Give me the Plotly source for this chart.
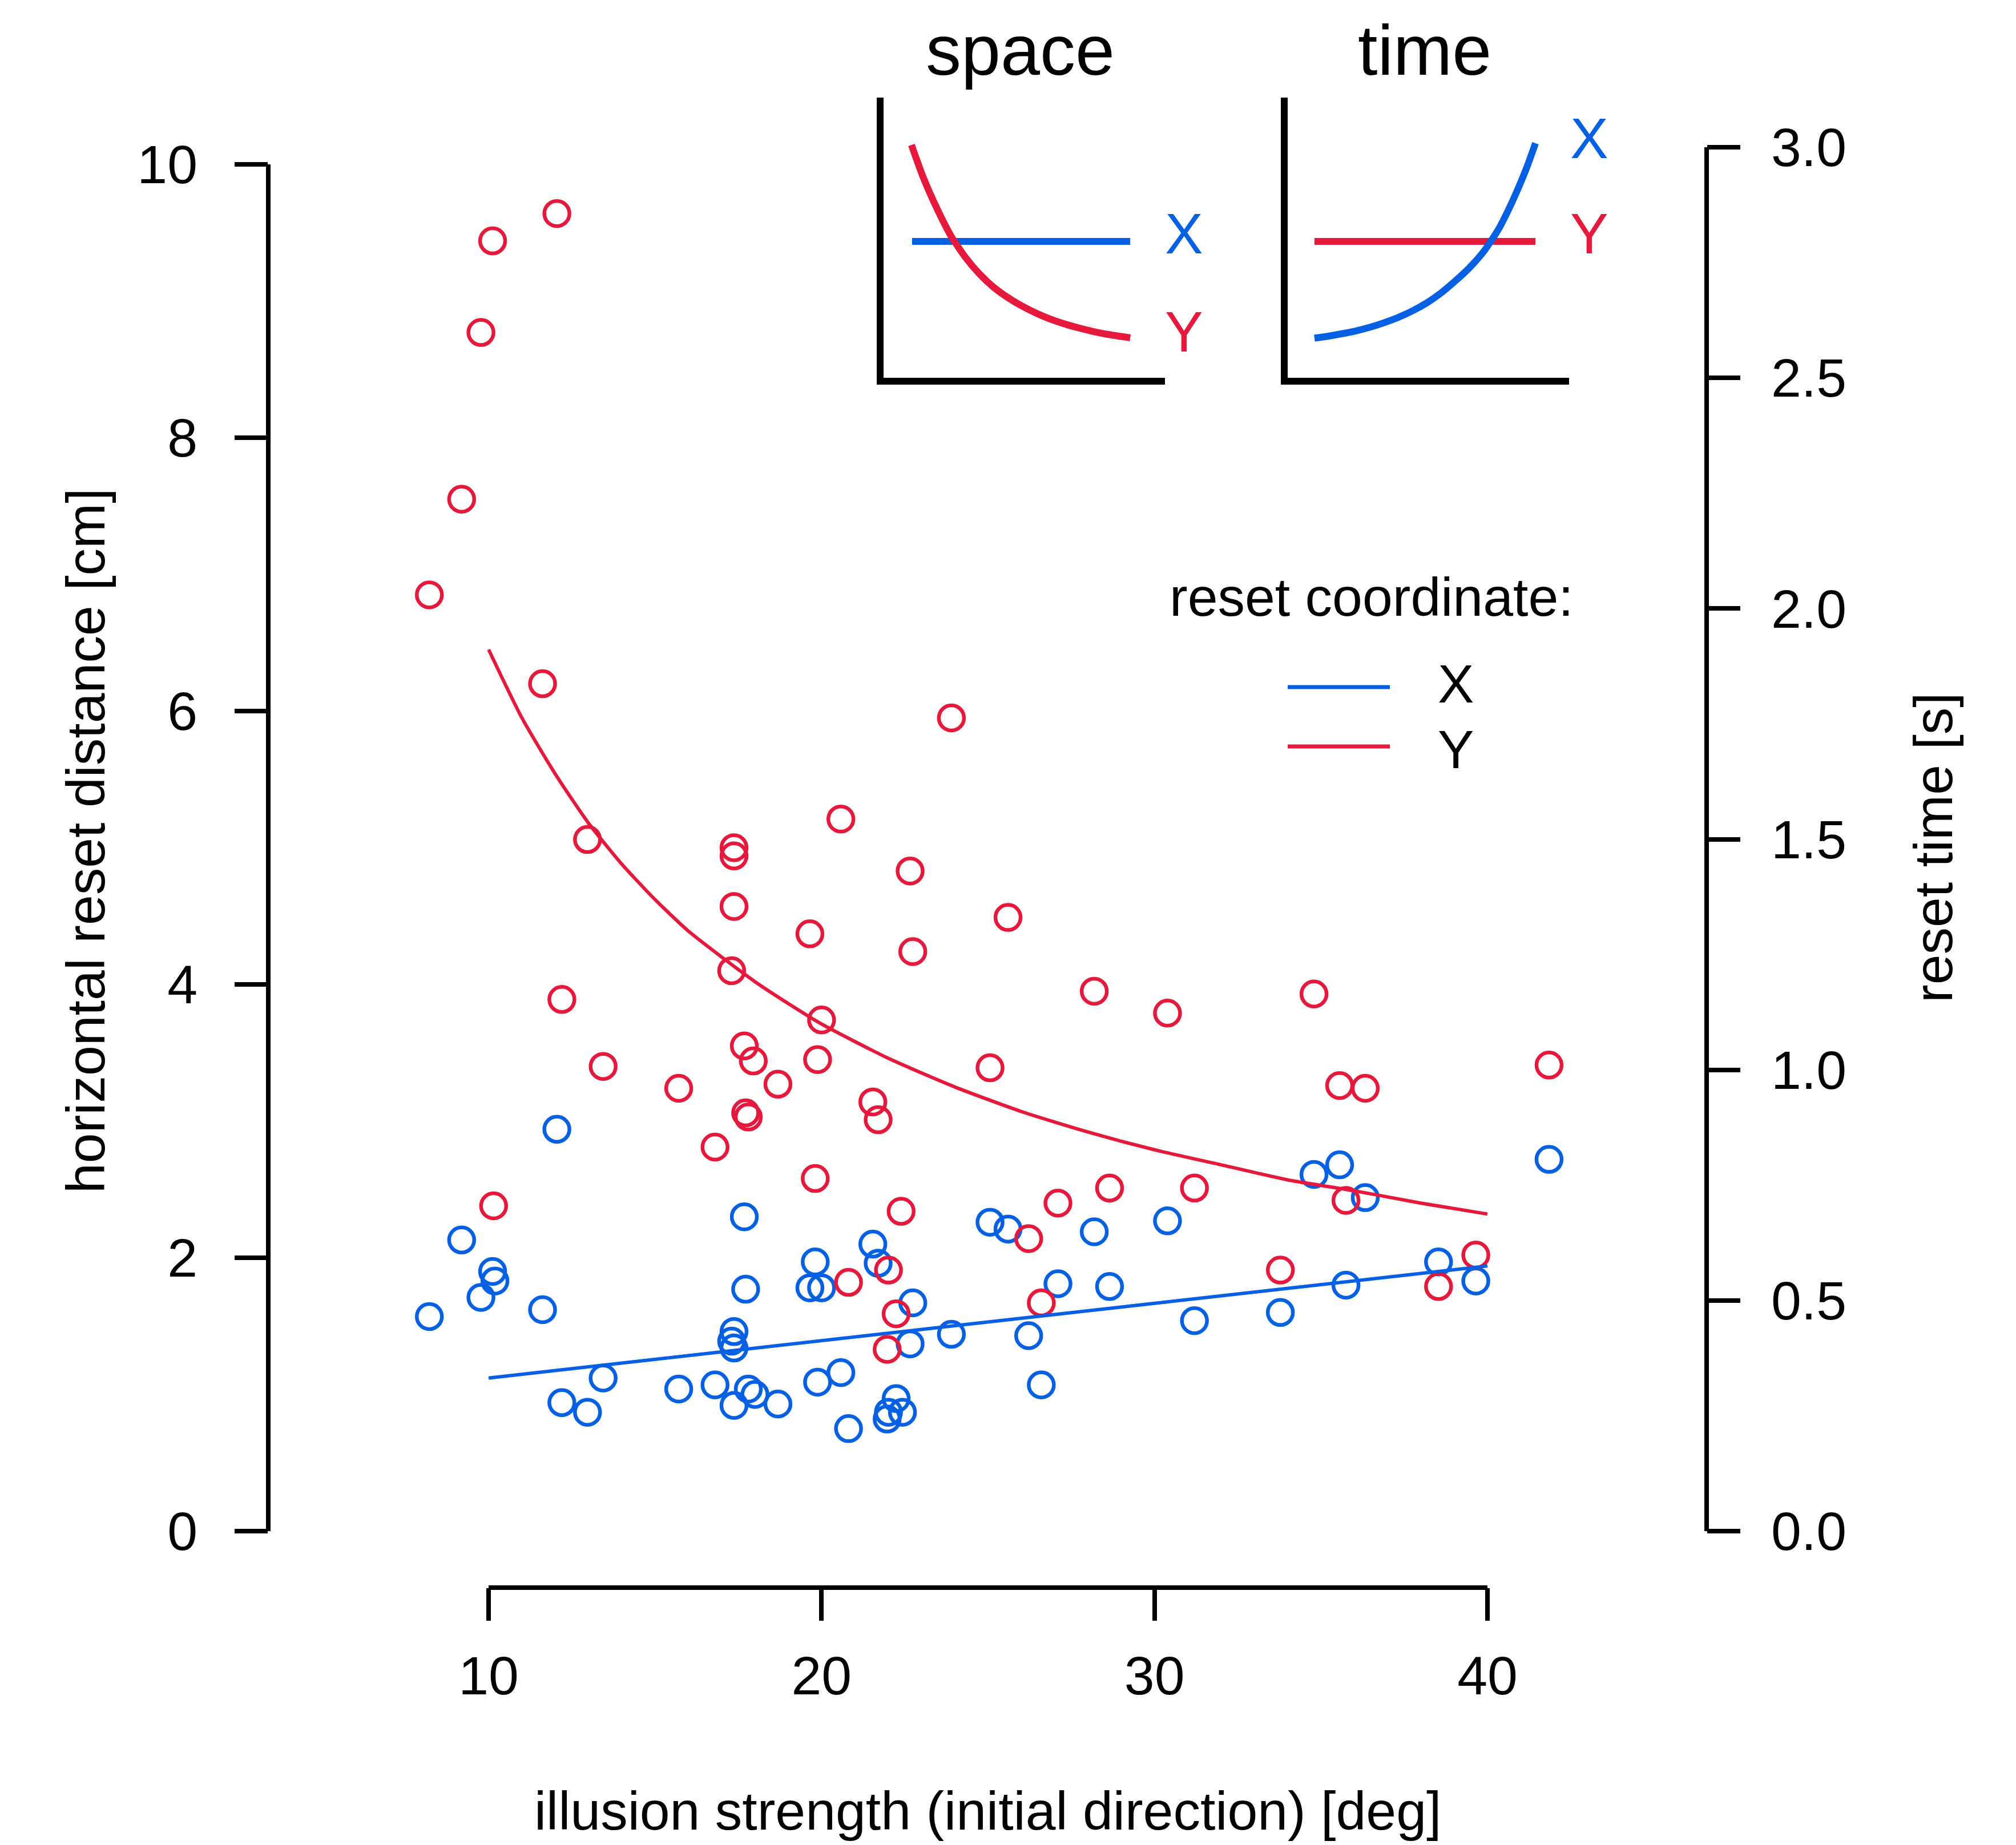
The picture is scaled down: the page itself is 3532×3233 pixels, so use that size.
import plotly.graph_objects as go

# ---------------- data ----------------
# reset coordinate Y (red): illusion strength [deg] vs horizontal reset distance [cm]
y_coord_deg = [8.22, 9.19, 9.77, 10.12, 12.05, 10.15, 11.62, 12.20, 12.97, 13.44,
               15.71, 16.80, 17.37, 17.37, 17.37, 17.30, 17.68, 17.95, 17.72, 17.80,
               18.69, 19.65, 20.00, 19.88, 19.81, 20.58, 20.81, 21.54, 21.70, 22.01,
               21.97, 22.24, 22.39, 22.66, 22.74, 23.90, 25.06, 25.60, 26.22, 26.60,
               27.10, 28.19, 28.65, 30.39, 31.20, 33.78, 34.79, 35.56, 35.75, 36.33,
               38.53, 39.65, 41.85]
y_coord_cm = [6.85, 7.55, 8.77, 9.44, 9.64, 2.38, 6.20, 3.89, 5.06, 3.40,
              3.24, 2.81, 5.00, 4.94, 4.57, 4.10, 3.55, 3.44, 3.06, 3.03,
              3.27, 4.37, 3.74, 3.45, 2.58, 5.21, 1.82, 3.14, 3.01, 1.91,
              1.33, 1.59, 2.34, 4.83, 4.24, 5.95, 3.39, 4.49, 2.14, 1.67,
              2.40, 3.95, 2.51, 3.79, 2.51, 1.91, 3.93, 3.26, 2.42, 3.24,
              1.79, 2.02, 3.41]

# reset coordinate X (blue)
x_coord_deg = [8.22, 9.19, 9.77, 10.12, 10.19, 11.62, 12.05, 12.20, 12.97, 13.44,
               15.71, 16.80, 17.37, 17.30, 17.37, 17.37, 17.68, 17.72, 17.80, 18.00,
               18.69, 19.65, 19.81, 20.00, 19.88, 20.58, 20.81, 21.54, 21.70, 22.01,
               21.97, 22.24, 22.43, 22.66, 22.74, 23.90, 25.06, 25.60, 26.22, 26.60,
               27.10, 28.19, 28.65, 30.39, 31.20, 33.78, 34.79, 35.56, 35.75, 36.33,
               38.53, 39.65, 41.85]
x_coord_cm = [1.57, 2.13, 1.71, 1.90, 1.83, 1.62, 2.94, 0.94, 0.87, 1.12,
              1.04, 1.07, 1.46, 1.39, 1.34, 0.92, 2.30, 1.77, 1.04, 1.00,
              0.93, 1.78, 1.97, 1.78, 1.09, 1.16, 0.75, 2.10, 1.96, 0.87,
              0.82, 0.97, 0.87, 1.37, 1.67, 1.44, 2.26, 2.21, 1.43, 1.07,
              1.81, 2.19, 1.79, 2.27, 1.54, 1.60, 2.61, 2.68, 1.80, 2.44,
              1.97, 1.83, 2.72]

# fitted curves
fit_y_deg = [10, 11, 12, 13, 14, 15, 16, 17, 18, 19, 20, 22, 24, 26, 28, 30, 32, 34, 36, 38, 40]
fit_y_cm = [6.45, 5.95, 5.54, 5.18, 4.88, 4.62, 4.39, 4.20, 4.02, 3.86, 3.71, 3.46, 3.25,
            3.07, 2.92, 2.79, 2.68, 2.57, 2.49, 2.40, 2.32]
fit_x_deg = [10, 40]
fit_x_cm = [1.12, 1.94]

# axis ticks
x_ticks = [10, 20, 30, 40]
y_ticks = [0, 2, 4, 6, 8, 10]
y2_ticks = [0.0, 0.5, 1.0, 1.5, 2.0, 2.5, 3.0]
y2_ticklabels = ["0.0", "0.5", "1.0", "1.5", "2.0", "2.5", "3.0"]

# schematic insets (normalised units)
space_flat_t = [0.112, 0.878]
space_flat_v = [0.493, 0.493]
space_curve_t = [0.110, 0.15, 0.20, 0.25, 0.30, 0.35, 0.40, 0.45, 0.50, 0.55,
                 0.60, 0.65, 0.70, 0.75, 0.80, 0.878]
space_curve_v = [0.833, 0.722, 0.608, 0.510, 0.436, 0.377, 0.330, 0.294, 0.264, 0.239,
                 0.218, 0.201, 0.187, 0.175, 0.165, 0.153]
time_flat_t = [0.106, 0.882]
time_flat_v = [0.493, 0.493]
time_curve_t = [0.106, 0.15, 0.20, 0.25, 0.30, 0.35, 0.40, 0.45, 0.50, 0.55,
                0.60, 0.65, 0.70, 0.75, 0.80, 0.85, 0.882]
time_curve_v = [0.152, 0.158, 0.167, 0.177, 0.190, 0.206, 0.225, 0.248, 0.276, 0.311,
                0.353, 0.400, 0.457, 0.532, 0.632, 0.750, 0.839]

# ---------------- style ----------------
BLUE = "#0560E4"
RED = "#E6183B"
FONT = "Liberation Sans, Arial, Helvetica, sans-serif"
FS = 95
W, H = 3532, 3233
ML, MR, MT, MB = 470, 542, 100, 451
PW = W - ML - MR
PH = H - MT - MB


def px_x(p):
    return (p - ML) / PW


def px_y(p):
    return (H - MB - p) / PH


fig = go.Figure()

# scatter points
fig.add_trace(go.Scatter(x=x_coord_deg, y=x_coord_cm, mode="markers",
                         marker=dict(symbol="circle-open", size=44, color=BLUE,
                                     line=dict(width=6.5, color=BLUE)),
                         xaxis="x", yaxis="y", showlegend=False))
fig.add_trace(go.Scatter(x=y_coord_deg, y=y_coord_cm, mode="markers",
                         marker=dict(symbol="circle-open", size=44, color=RED,
                                     line=dict(width=6.5, color=RED)),
                         xaxis="x", yaxis="y", showlegend=False))
# fitted lines
fig.add_trace(go.Scatter(x=fit_x_deg, y=fit_x_cm, mode="lines",
                         line=dict(color=BLUE, width=6),
                         xaxis="x", yaxis="y", showlegend=False))
fig.add_trace(go.Scatter(x=fit_y_deg, y=fit_y_cm, mode="lines",
                         line=dict(color=RED, width=6, shape="spline", smoothing=0.6),
                         xaxis="x", yaxis="y", showlegend=False))
# invisible trace to activate y2
fig.add_trace(go.Scatter(x=[None], y=[None], xaxis="x", yaxis="y2",
                         showlegend=False, hoverinfo="skip"))

# inset: space
fig.add_trace(go.Scatter(x=space_flat_t, y=space_flat_v, mode="lines",
                         line=dict(color=BLUE, width=12), xaxis="x3", yaxis="y3",
                         showlegend=False))
fig.add_trace(go.Scatter(x=space_curve_t, y=space_curve_v, mode="lines",
                         line=dict(color=RED, width=12, shape="spline", smoothing=0.6),
                         xaxis="x3", yaxis="y3", showlegend=False))
# inset: time
fig.add_trace(go.Scatter(x=time_flat_t, y=time_flat_v, mode="lines",
                         line=dict(color=RED, width=12), xaxis="x4", yaxis="y4",
                         showlegend=False))
fig.add_trace(go.Scatter(x=time_curve_t, y=time_curve_v, mode="lines",
                         line=dict(color=BLUE, width=12, shape="spline", smoothing=0.6),
                         xaxis="x4", yaxis="y4", showlegend=False))

y_dom = [px_y(2683), px_y(258)]

tickfont = dict(family=FONT, size=FS, color="black")
common = dict(showgrid=False, zeroline=False, showline=False, ticks="outside",
              tickcolor="black", tickwidth=8, tickfont=tickfont)

inset_axis = dict(showgrid=False, zeroline=False, showline=True, linewidth=12,
                  linecolor="black", ticks="", showticklabels=False, fixedrange=True)

# inset frames: 0 of the normalised units sits at the centre of the 12 px axis lines
IN1_X0, IN2_X0, IN_W = 1542, 2250, 499
IN_Y0, IN_H = 668, 497

fig.update_layout(
    width=W, height=H,
    margin=dict(l=ML, r=MR, t=MT, b=MB, pad=0),
    paper_bgcolor="white", plot_bgcolor="rgba(0,0,0,0)",
    font=dict(family=FONT, size=FS, color="black"),
    showlegend=False,
    xaxis=dict(domain=[0, 1], range=[3.382, 46.583], anchor="free", position=0,
               tickvals=x_ticks, ticklen=57, ticklabelstandoff=15, **common),
    yaxis=dict(domain=y_dom, range=[0, 10.125], anchor="x", tickvals=y_ticks,
               ticklen=58, ticklabelstandoff=46, **common),
    yaxis2=dict(domain=y_dom, range=[0, 3.0], anchor="x", overlaying="y", side="right",
                tickvals=y2_ticks, ticktext=y2_ticklabels, ticklen=58,
                ticklabelstandoff=35, **common),
    xaxis3=dict(domain=[px_x(IN1_X0 + 6), px_x(IN1_X0 + IN_W)], range=[6 / IN_W, 1],
                anchor="y3", **inset_axis),
    yaxis3=dict(domain=[px_y(IN_Y0 - 6), px_y(IN_Y0 - IN_H)], range=[6 / IN_H, 1],
                anchor="x3", **inset_axis),
    xaxis4=dict(domain=[px_x(IN2_X0 + 6), px_x(IN2_X0 + IN_W)], range=[6 / IN_W, 1],
                anchor="y4", **inset_axis),
    yaxis4=dict(domain=[px_y(IN_Y0 - 6), px_y(IN_Y0 - IN_H)], range=[6 / IN_H, 1],
                anchor="x4", **inset_axis),
)

# R-style axis lines spanning the tick range only
line_k = dict(color="black", width=8)
fig.add_shape(type="line", xref="paper", yref="y", x0=0, x1=0, y0=0, y1=10, line=line_k)
fig.add_shape(type="line", xref="paper", yref="y2", x0=1, x1=1, y0=0, y1=3, line=line_k)
fig.add_shape(type="line", xref="x", yref="paper", x0=10, x1=40, y0=0, y1=0, line=line_k)


def note(text, x, y, size=FS, color="black", angle=0):
    fig.add_annotation(text=text, xref="paper", yref="paper", x=px_x(x), y=px_y(y),
                       xanchor="center", yanchor="middle", showarrow=False,
                       textangle=angle, font=dict(size=size, color=color))


# axis titles
note("illusion strength (initial direction) [deg]", 1730, 3173)
note("horizontal reset distance [cm]", 150, 1473, angle=-90)
note("reset time [s]", 3387, 1485, angle=-90)

# legend (drawn manually, R style)
note("reset coordinate:", 2403, 1046)
fig.add_shape(type="line", xref="paper", yref="paper", x0=px_x(2256), x1=px_x(2435),
              y0=px_y(1204), y1=px_y(1204), line=dict(color=BLUE, width=7))
fig.add_shape(type="line", xref="paper", yref="paper", x0=px_x(2256), x1=px_x(2435),
              y0=px_y(1308), y1=px_y(1308), line=dict(color=RED, width=7))
note("X", 2550, 1198)
note("Y", 2550, 1313)

# inset titles and labels
note("space", 1787, 88, size=124)
note("time", 2496, 88, size=124)
note("X", 2074, 409, size=100, color=BLUE)
note("Y", 2074, 581, size=100, color=RED)
note("X", 2784, 242, size=100, color=BLUE)
note("Y", 2784, 409, size=100, color=RED)

fig.write_html("out.html", config={"displayModeBar": False},
               post_script="document.body.style.margin='0px';")
